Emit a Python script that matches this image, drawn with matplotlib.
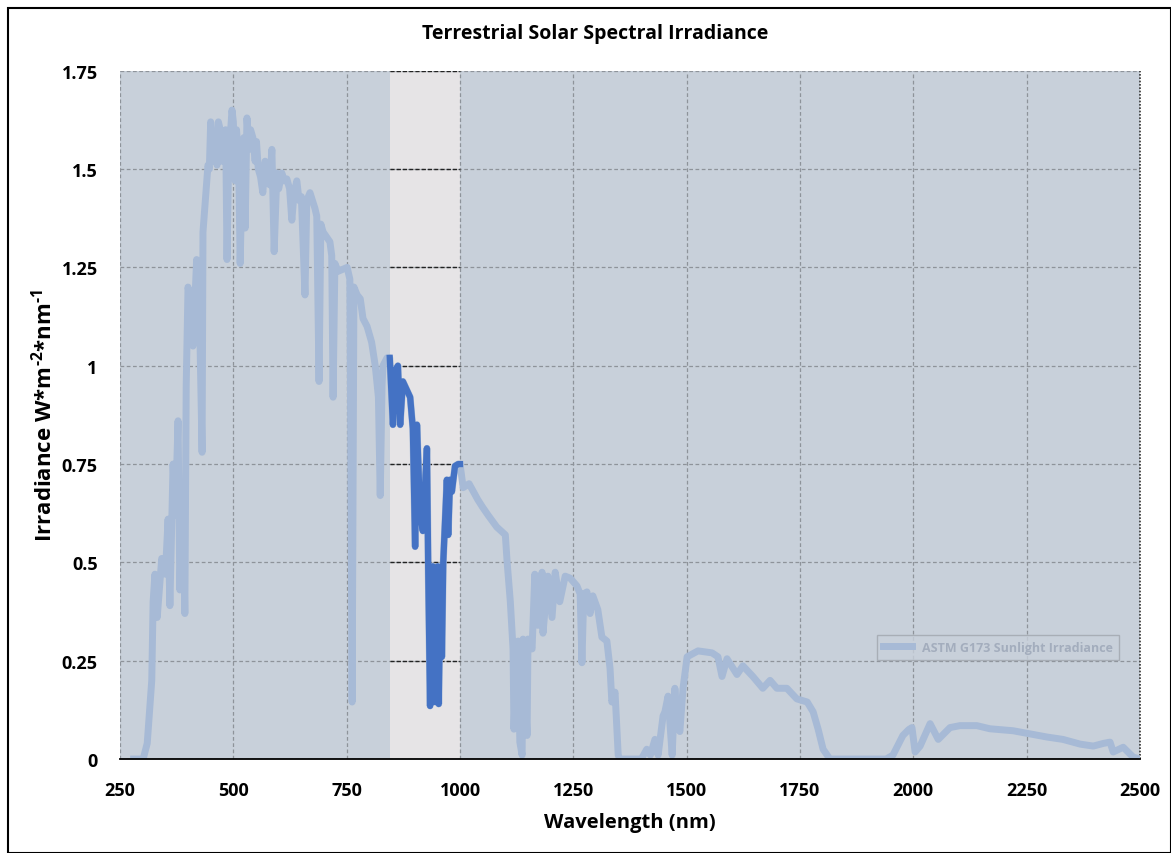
import numpy as np
import matplotlib.pyplot as plt
from matplotlib.patches import Rectangle

# wavelength (nm) and irradiance (W m^-2 nm^-1)
wavelength = [280, 301, 310, 320, 323, 327, 332, 342, 350, 356, 360, 367, 372, 378, 382, 388, 393,
              396, 400, 409, 411, 419, 425, 431, 433, 440, 444, 447, 450, 453, 457, 460, 464, 467,
              471, 475, 480, 483, 486, 490, 493, 497, 500, 504, 507, 510, 512, 515, 520, 523, 526,
              530, 535, 538, 543, 548, 551, 555, 560, 565, 570, 575, 580, 585, 590, 596, 600, 607,
              612, 618, 624, 629, 634, 640, 645, 650, 658, 662, 669, 680, 684, 689, 693, 698, 713,
              717, 720, 724, 731, 751, 757, 762, 766, 773, 780, 786, 795, 805, 813, 820, 824, 828,
              830, 839,
              845, 852, 858, 863, 868, 874, 890, 896, 901, 905, 912, 918, 927, 930, 934, 940, 945,
              948, 951, 953, 957, 960, 963, 971, 974, 978, 982, 989, 996, 1000,
              1007, 1020, 1039, 1050, 1062, 1081, 1100, 1104, 1111, 1117, 1119, 1124, 1128, 1132,
              1137, 1139, 1148, 1150, 1159, 1165, 1172, 1181, 1183, 1194, 1203, 1210, 1220, 1232,
              1243, 1258, 1265, 1269, 1273, 1280, 1287, 1293, 1304, 1313, 1324, 1331, 1335, 1342,
              1349, 1353,
              1400, 1412, 1420, 1430, 1437, 1448, 1452, 1459, 1468, 1474, 1479, 1485, 1492, 1501,
              1525, 1556, 1569, 1578, 1589, 1611, 1624, 1646, 1668, 1684, 1699, 1721, 1743, 1766,
              1779, 1790, 1801, 1816,
              1940, 1955, 1977, 1990, 1997, 2004, 2015, 2037, 2055, 2081, 2103, 2140, 2169, 2220,
              2257, 2295, 2330, 2368, 2397, 2420, 2434, 2441, 2463, 2485, 2500]
irradiance = [0.0, 0.0, 0.04, 0.20, 0.40, 0.47, 0.36, 0.51, 0.47, 0.61, 0.39, 0.75, 0.62, 0.86, 0.43,
              0.70, 0.37, 0.95, 1.20, 1.14, 1.05, 1.27, 1.15, 0.78, 1.34, 1.45, 1.51, 1.50, 1.62,
              1.58, 1.52, 1.55, 1.51, 1.62, 1.60, 1.52, 1.58, 1.60, 1.27, 1.55, 1.58, 1.65, 1.62,
              1.47, 1.60, 1.55, 1.50, 1.26, 1.52, 1.58, 1.35, 1.63, 1.55, 1.60, 1.58, 1.52, 1.57,
              1.50, 1.48, 1.44, 1.52, 1.50, 1.46, 1.55, 1.29, 1.49, 1.45, 1.49, 1.47, 1.475, 1.45,
              1.37, 1.44, 1.47, 1.42, 1.43, 1.18, 1.42, 1.44, 1.40, 1.38, 0.96, 1.36, 1.34, 1.315,
              1.28, 0.92, 1.26, 1.24, 1.25, 1.22, 0.145, 1.20, 1.18, 1.17, 1.12, 1.10, 1.06, 1.00,
              0.92, 0.67, 0.95, 1.00, 1.02,
              1.02, 0.85, 0.99, 1.00, 0.85, 0.96, 0.92, 0.84, 0.54, 0.85, 0.62, 0.58, 0.79, 0.47,
              0.135, 0.49, 0.145, 0.40, 0.49, 0.14, 0.45, 0.26, 0.50, 0.71, 0.57, 0.71, 0.68, 0.745,
              0.75, 0.75,
              0.69, 0.70, 0.66, 0.64, 0.62, 0.59, 0.57, 0.50, 0.40, 0.28, 0.076, 0.25, 0.30, 0.043,
              0.01, 0.305, 0.06, 0.305, 0.28, 0.47, 0.34, 0.475, 0.32, 0.465, 0.36, 0.475, 0.40,
              0.465, 0.46, 0.44, 0.42, 0.245, 0.42, 0.425, 0.37, 0.415, 0.38, 0.31, 0.30, 0.23,
              0.145, 0.17, 0.01, 0.0,
              0.0, 0.025, 0.01, 0.05, 0.01, 0.11, 0.12, 0.16, 0.01, 0.18, 0.10, 0.07, 0.18, 0.26,
              0.275, 0.27, 0.26, 0.21, 0.255, 0.215, 0.237, 0.21, 0.18, 0.20, 0.18, 0.18, 0.153,
              0.145, 0.12, 0.076, 0.025, 0.0,
              0.0, 0.01, 0.06, 0.075, 0.08, 0.018, 0.033, 0.09, 0.05, 0.08, 0.085, 0.085, 0.077,
              0.072, 0.064, 0.056, 0.05, 0.038, 0.033, 0.04, 0.043, 0.018, 0.03, 0.005, 0.0]

band_lo, band_hi = 845, 1000
yticks = [0, 0.25, 0.5, 0.75, 1, 1.25, 1.5, 1.75]
ytick_labels = ['0', '0.25', '0.5', '0.75', '1', '1.25', '1.5', '1.75']
xticks = list(range(250, 2501, 250))

wl = np.array(wavelength)
irr = np.array(irradiance)

font = 'Open Sans'
plt.rcParams['mathtext.fontset'] = 'custom'
plt.rcParams['mathtext.rm'] = 'Open Sans:bold'

fig = plt.figure(figsize=(11.71, 8.54), dpi=100)
fig.patch.set_facecolor('white')
ax = fig.add_axes([0.1025, 0.110, 0.871, 0.806])
ax.set_facecolor('#c8d0da')

# highlighted band
ax.add_patch(Rectangle((band_lo, 0), band_hi - band_lo, 1.75, facecolor='#e6e4e6',
                       edgecolor='none', zorder=0.5))

ax.set_xlim(250, 2500)
ax.set_ylim(0, 1.75)
ax.set_xticks(xticks)
ax.set_yticks(yticks)
ax.set_yticklabels(ytick_labels)
ax.grid(True, color='#8e939a', linestyle=(0, (3, 2)), linewidth=0.9)
ax.set_axisbelow(True)
for y in yticks[1:]:
    ax.hlines(y, band_lo, band_hi, colors='#222222', linestyles=(0, (3, 1.5)),
              linewidth=1.0, zorder=1)

for s in ['left', 'top', 'right']:
    ax.spines[s].set_visible(False)
ax.spines['bottom'].set_color('black')
ax.spines['bottom'].set_linewidth(1.3)
ax.axvline(2500, color='#333333', linestyle=(0, (1, 1)), linewidth=1.2, clip_on=False)

ax.plot(wl, irr, color='#a7bad6', linewidth=5.0, solid_joinstyle='round',
        label='ASTM G173 Sunlight Irradiance', zorder=2)
mask = (wl >= band_lo) & (wl <= band_hi)
ax.plot(wl[mask], irr[mask], color='#4472c4', linewidth=4.5, solid_joinstyle='round', zorder=3)

ax.tick_params(length=0)
ax.tick_params(axis='x', pad=16)
ax.tick_params(axis='y', pad=16)
for lab in ax.get_xticklabels() + ax.get_yticklabels():
    lab.set_fontfamily(font)
    lab.set_fontweight('bold')
    lab.set_fontsize(13)

ax.set_xlabel('Wavelength (nm)', fontfamily=font, fontweight='bold', fontsize=14.5, labelpad=9)
ax.set_ylabel('Irradiance W*m$^{\\text{-2}}$*nm$^{\\text{-1}}$', fontfamily=font,
              fontweight='bold', fontsize=16, labelpad=4)
fig.text(0.508, 0.960, 'Terrestrial Solar Spectral Irradiance', ha='center', va='center',
         fontfamily=font, fontweight='bold', fontsize=14)

leg = ax.legend(loc='upper left', bbox_to_anchor=(0.736, 0.19), frameon=True, fancybox=False,
                prop={'family': font, 'size': 9, 'weight': 'bold'}, handlelength=2.3,
                borderpad=0.5)
leg.get_frame().set_facecolor('#c8d0da')
leg.get_frame().set_edgecolor('#a0a6ae')
for t in leg.get_texts():
    t.set_color('#a3adbd')

# outer frame
fig.add_artist(Rectangle((0.007, 0.0), 0.993, 0.99, transform=fig.transFigure, fill=False,
                         edgecolor='black', linewidth=1.5))

fig.savefig('out.png', dpi=100)
